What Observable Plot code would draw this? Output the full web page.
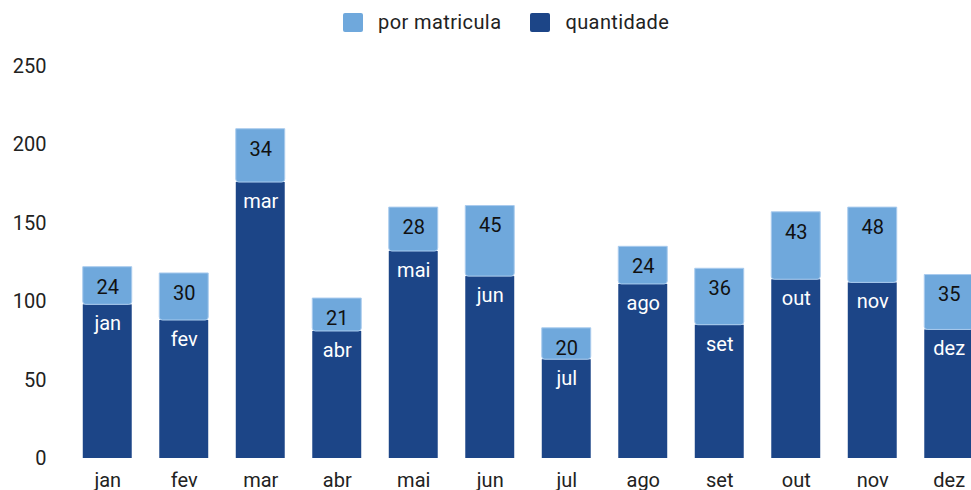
<!DOCTYPE html>
<html>
<head>
<meta charset="utf-8">
<script src="https://cdn.jsdelivr.net/npm/d3@7"></script>
<script src="https://cdn.jsdelivr.net/npm/@observablehq/plot@0.6"></script>
<style>
  html, body { margin: 0; padding: 0; background: #fff; overflow: hidden; }
  body { width: 971px; height: 490px; font-family: Roboto, "Noto Sans", sans-serif; }
  #legend { height: 44px; display: flex; align-items: center; justify-content: flex-start; padding-left: 343px; box-sizing: border-box; font-size: 20px; letter-spacing: 0.4px; color: #222; }
  .sw { width: 20px; height: 19px; border-radius: 2px; display: inline-block; margin-right: 15px; }
  .item { display: flex; align-items: center; margin-right: 29px; }
</style>
</head>
<body>
<div id="legend"></div>
<div id="chart"></div>
<script>
const meses = ["jan","fev","mar","abr","mai","jun","jul","ago","set","out","nov","dez"];
const quantidade = [98, 88, 176, 81, 132, 116, 63, 111, 85, 114, 112, 82];
const porMatricula = [24, 30, 34, 21, 28, 45, 20, 24, 36, 43, 48, 35];
const series = ["por matricula", "quantidade"];
const colors = ["#6fa8dc", "#1c4587"];
const yTicks = [0, 50, 100, 150, 200, 250];

const legend = document.getElementById("legend");
series.forEach((s, i) => {
  const it = document.createElement("div");
  it.className = "item";
  const sw = document.createElement("span");
  sw.className = "sw";
  sw.style.background = colors[i];
  const t = document.createElement("span");
  t.textContent = s;
  it.appendChild(sw); it.appendChild(t);
  legend.appendChild(it);
});

const data = meses.map((m, i) => ({mes: m, q: quantidade[i], p: porMatricula[i], total: quantidade[i] + porMatricula[i]}));

const chart = Plot.plot({
  width: 971,
  height: 446,
  marginLeft: 69,
  marginRight: -16,
  marginTop: 22,
  marginBottom: 32,
  style: {fontFamily: "Roboto, 'Noto Sans', sans-serif", fontSize: "20px", color: "#222", overflow: "visible"},
  x: {domain: meses, paddingInner: 0.36, paddingOuter: 0.18, round: false, label: null, tickSize: 0, tickPadding: 14},
  y: {domain: [0, 250], ticks: yTicks, label: null, tickSize: 0, tickPadding: 23},
  marks: [
    Plot.barY(data, {x: "mes", y1: 0, y2: "q", fill: colors[1]}),
    Plot.barY(data, {x: "mes", y1: "q", y2: "total", fill: colors[0], stroke: "#a9cbee", strokeWidth: 1, ry2: 3}),
    Plot.text(data, {x: "mes", y: "total", text: d => String(d.p), dy: 20, fill: "#111", fontSize: 20}),
    Plot.text(data, {x: "mes", y: "q", text: "mes", dy: 19, fill: "#fff", fontSize: 20})
  ]
});
document.getElementById("chart").appendChild(chart);
</script>
</body>
</html>
